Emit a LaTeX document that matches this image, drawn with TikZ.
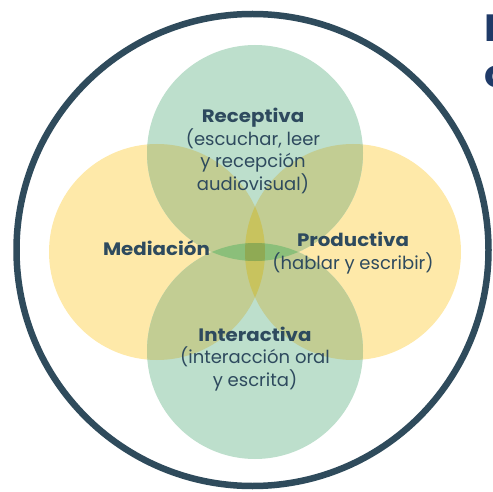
\documentclass[tikz,border=0pt]{standalone}
\usepackage{fontspec}
\setmainfont{Poppins}[BoldFeatures={FakeStretch=1.1}]
\definecolor{ring}{HTML}{2F4B5C}
\definecolor{txt}{HTML}{2E4A5E}
\definecolor{head}{HTML}{1F3A68}
\definecolor{yel}{HTML}{FEE9A9}
\definecolor{grn}{HTML}{BDDFCC}
\definecolor{yelgrn}{HTML}{C2CD93}
\definecolor{yelyel}{HTML}{C8C35E}
\definecolor{grngrn}{HTML}{8BBF7A}
\definecolor{allfour}{HTML}{8FAA54}
\tikzset{lab/.style={text=txt,align=center,inner sep=0pt,font=\fontsize{18}{22.5}\selectfont},
  tit/.style={text=head,font=\fontsize{38}{46}\selectfont\bfseries,anchor=base west,inner sep=0pt}}

\begin{document}
\begin{tikzpicture}[x=1pt,y=-1pt]
    \useasboundingbox (0,0) rectangle (493,492);
    \coordinate (rec) at (255,153);
    \coordinate (int) at (255,351);
    \coordinate (med) at (157,252);
    \coordinate (pro) at (353,252);
    % single circles
    \foreach \c in {med,pro} \fill[yel] (\c) circle (108pt);
    \foreach \c in {rec,int} \fill[grn] (\c) circle (108pt);
    % one yellow over one green
    \foreach \c in {med,pro}
    \foreach \d in {rec,int}
    {\begin{scope}
      \clip (\c) circle (108pt);
      \fill[yelgrn] (\d) circle (108pt);
    \end{scope}}
    % the two lenses
    \begin{scope}
      \clip (med) circle (108pt);
      \fill[yelyel] (pro) circle (108pt);
    \end{scope}
    \begin{scope}
      \clip (rec) circle (108pt);
      \fill[grngrn] (int) circle (108pt);
    \end{scope}
    \begin{scope}
      \clip (med) circle (108pt);
      \clip (pro) circle (108pt);
      \clip (rec) circle (108pt);
      \fill[allfour] (int) circle (108pt);
    \end{scope}
    \draw[ring,line width=6.5pt] (252.5,250) circle (236pt);
    % labels
    \node[lab] (recL) at (253,151) {\textbf{Receptiva}\\(escuchar, leer\\y recepción\\audiovisual)};
    \node[lab,anchor=base] (medL) at (156.5,255) {\textbf{Mediación}};
    \node[lab] (proL) at (353,253) {\textbf{Productiva}\\(hablar y escribir)};
    \node[lab] (intL) at (255,359) {\textbf{Interactiva}\\(interacción oral\\y escrita)};
    \node[tit] (titA) at (484,42) {L};
    \node[tit] (titB) at (484,88) {c};
\end{tikzpicture}
\end{document}
